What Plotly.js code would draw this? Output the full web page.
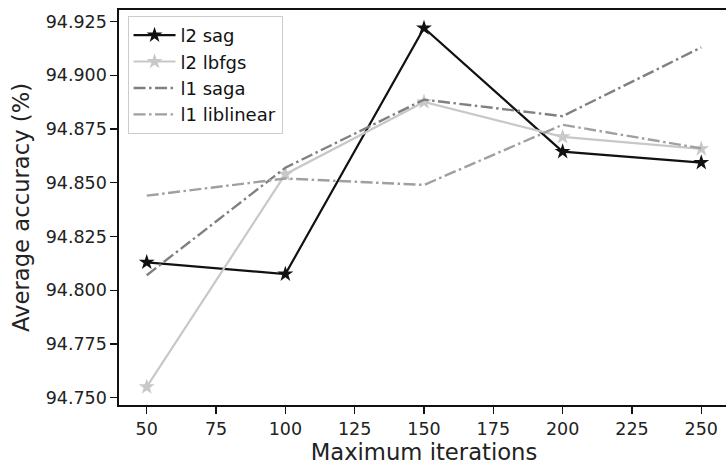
<!DOCTYPE html>
<html>
<head>
<meta charset="utf-8">
<script src="https://cdn.plot.ly/plotly-3.0.1.min.js"></script>
<style>html,body{margin:0;padding:0;overflow:hidden;background:#fff;}#chart{width:730px;height:468px;}</style>
</head>
<body>
<div id="chart"></div>
<script>
const iterations = [50, 100, 150, 200, 250];
const l2Sag = [94.813, 94.8075, 94.922, 94.8645, 94.8594];
const l2Lbfgs = [94.755, 94.854, 94.8876, 94.8714, 94.8658];
const l1Saga = [94.807, 94.857, 94.8887, 94.881, 94.913];
const l1Liblinear = [94.844, 94.852, 94.849, 94.877, 94.866];
const xTicks = [50, 75, 100, 125, 150, 175, 200, 225, 250];
const yTicks = [94.750, 94.775, 94.800, 94.825, 94.850, 94.875, 94.900, 94.925];

const dashDot = "12px,3.5px,2.5px,3.5px";
const traces = [
  {x: iterations, y: l2Sag, name: "l2 sag", mode: "lines+markers",
   line: {color: "#111111", width: 2.2}, marker: {symbol: "star", size: 12, color: "#111111"}},
  {x: iterations, y: l2Lbfgs, name: "l2 lbfgs", mode: "lines+markers",
   line: {color: "#c8c8c8", width: 2.2}, marker: {symbol: "star", size: 12, color: "#c8c8c8"}},
  {x: iterations, y: l1Saga, name: "l1 saga", mode: "lines",
   line: {color: "#808080", width: 2.4, dash: dashDot}},
  {x: iterations, y: l1Liblinear, name: "l1 liblinear", mode: "lines",
   line: {color: "#a0a0a0", width: 2.4, dash: dashDot}}
];

const fam = "DejaVu Sans, sans-serif";
const layout = {
  width: 730, height: 468,
  margin: {l: 119, r: 1, t: 10, b: 63},
  paper_bgcolor: "#fff", plot_bgcolor: "#fff",
  font: {family: fam, color: "#222", size: 18},
  showlegend: true,
  legend: {x: 0.014, y: 0.985, xanchor: "left", yanchor: "top",
    bgcolor: "rgba(255,255,255,0.85)", bordercolor: "#cccccc", borderwidth: 1,
    font: {family: fam, size: 18, color: "#111"},
    itemwidth: 42, tracegroupgap: 0},
  xaxis: {range: [40, 260], tickvals: xTicks, ticktext: xTicks.map(String),
    showgrid: false, zeroline: false, showline: true, mirror: true, linecolor: "#111", linewidth: 1.6,
    ticks: "outside", ticklen: 7, tickwidth: 1.4, tickcolor: "#111",
    tickfont: {size: 17.5, color: "#222", family: fam},
    title: {text: "Maximum iterations", font: {size: 22.7, color: "#222", family: fam}, standoff: 5}},
  yaxis: {range: [94.7466, 94.9304], tickvals: yTicks, ticktext: yTicks.map(v => v.toFixed(3)),
    showgrid: false, zeroline: false, showline: true, mirror: true, linecolor: "#111", linewidth: 1.6,
    ticks: "outside", ticklen: 7, tickwidth: 1.4, tickcolor: "#111",
    tickfont: {size: 17.5, color: "#222", family: fam},
    title: {text: "Average accuracy (%)", font: {size: 22.7, color: "#222", family: fam}, standoff: 10}}
};
Plotly.newPlot("chart", traces, layout, {displayModeBar: false, staticPlot: true});
</script>
</body>
</html>
